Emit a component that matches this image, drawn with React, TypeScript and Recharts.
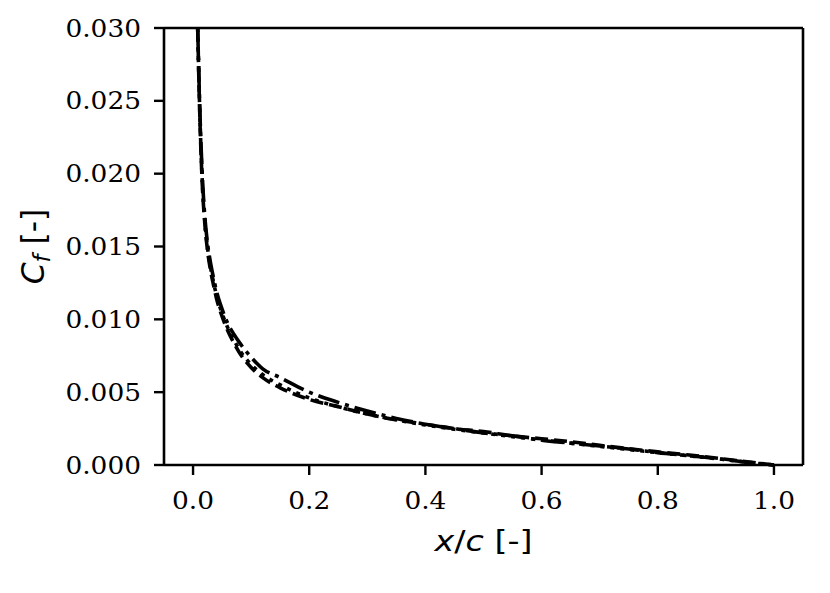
import { LineChart, Line, XAxis, YAxis, Label, ReferenceLine } from "recharts";

// chordwise positions x/c
const xc = [
  0.008, 0.012, 0.016, 0.02, 0.025, 0.03, 0.035, 0.04, 0.05, 0.06, 0.07, 0.08,
  0.1, 0.12, 0.15, 0.2, 0.25, 0.3, 0.35, 0.4, 0.45, 0.5, 0.55, 0.6, 0.65, 0.7,
  0.75, 0.8, 0.85, 0.9, 0.95, 1.0,
];

// skin friction, three cases
const cfDashed = [
  0.03, 0.0235, 0.0192, 0.0167, 0.0147, 0.0134, 0.0124, 0.0115, 0.0102, 0.0092,
  0.0084, 0.0077, 0.0067, 0.006, 0.0053, 0.0045, 0.004, 0.0035, 0.0031,
  0.0028, 0.0025, 0.0023, 0.002, 0.0018, 0.0016, 0.00135, 0.00112, 0.0009,
  0.0007, 0.00048, 0.00024, 0.0,
];
const cfDotted = [
  0.03, 0.0237, 0.0194, 0.0169, 0.0149, 0.0136, 0.0126, 0.0117, 0.0104,
  0.0094, 0.0086, 0.0079, 0.0069, 0.0062, 0.0055, 0.0046, 0.004, 0.0035,
  0.0031, 0.00275, 0.00245, 0.0022, 0.00195, 0.00172, 0.0015, 0.00128,
  0.00106, 0.00085, 0.00065, 0.00044, 0.00021, 0.0,
];
const cfDashDot = [
  0.03, 0.024, 0.0198, 0.0172, 0.0152, 0.0139, 0.0129, 0.012, 0.0107, 0.0097,
  0.009, 0.0084, 0.0074, 0.0066, 0.006, 0.005, 0.0043, 0.0037, 0.0032,
  0.0028, 0.0025, 0.0022, 0.002, 0.0017, 0.0015, 0.0013, 0.0011, 0.00085,
  0.00065, 0.00045, 0.0002, 0.0,
];

const xTicks = [0, 0.2, 0.4, 0.6, 0.8, 1.0];
const yTicks = [0, 0.005, 0.01, 0.015, 0.02, 0.025, 0.03];

const data = xc.map((x, i) => ({
  x,
  dashed: cfDashed[i],
  dotted: cfDotted[i],
  dashdot: cfDashDot[i],
}));

const serif = "DejaVu Serif";
const sans = "DejaVu Sans";
const stretch = 1.1;

function YTick(props: any) {
  const { x, y, payload } = props;
  return (
    <g transform={`translate(${x},${y})`}>
      <text
        transform={`scale(${stretch},1)`}
        textAnchor="end"
        dy="0.36em"
        fontFamily={serif}
        fontSize={24}
        fill="#000"
      >
        {payload.value.toFixed(3)}
      </text>
    </g>
  );
}

function XTick(props: any) {
  const { x, y, payload } = props;
  return (
    <g transform={`translate(${x},${y})`}>
      <text
        transform={`scale(${stretch},1)`}
        textAnchor="middle"
        dy="0.71em"
        fontFamily={serif}
        fontSize={24}
        fill="#000"
      >
        {payload.value.toFixed(1)}
      </text>
    </g>
  );
}

function YLabel(props: any) {
  const vb = props.viewBox;
  const cx = vb.x + 44;
  const cy = vb.y + vb.height / 2;
  return (
    <text
      transform={`translate(${cx},${cy}) rotate(-90) scale(1.08,1.12)`}
      textAnchor="middle"
      fontFamily={sans}
      fontSize={29}
      fill="#000"
    >
      <tspan fontStyle="italic">C</tspan>
      <tspan fontStyle="italic" fontSize={21} dy={5}>f</tspan>
      <tspan dy={-5}> [-]</tspan>
    </text>
  );
}

function XLabel(props: any) {
  const vb = props.viewBox;
  const cx = vb.x + vb.width / 2;
  return (
    <text
      transform={`translate(${cx},551) scale(1.15,1)`}
      textAnchor="middle"
      fontFamily={sans}
      fontSize={29}
      fill="#000"
    >
      <tspan fontStyle="italic">x</tspan>
      <tspan>/</tspan>
      <tspan fontStyle="italic">c</tspan>
      <tspan> [-]</tspan>
    </text>
  );
}

export default function App() {
  return (
    <div style={{ position: "absolute", left: 0, top: 0, background: "#fff" }}>
      <LineChart
        width={830}
        height={593}
        data={data}
        margin={{ top: 28, right: 27, bottom: 68, left: 0 }}
      >
        <XAxis
          type="number"
          dataKey="x"
          domain={[-0.05, 1.05]}
          ticks={xTicks}
          tick={<XTick />}
          tickSize={10}
          tickMargin={17}
          height={60}
          axisLine={{ stroke: "#000", strokeWidth: 2.6 }}
          tickLine={{ stroke: "#000", strokeWidth: 2.4 }}
        >
          <Label content={XLabel} />
        </XAxis>
        <YAxis
          type="number"
          domain={[0, 0.03]}
          ticks={yTicks}
          tick={<YTick />}
          tickSize={10}
          tickMargin={13}
          width={164}
          interval={0}
          axisLine={{ stroke: "#000", strokeWidth: 2.6 }}
          tickLine={{ stroke: "#000", strokeWidth: 2.4 }}
        >
          <Label content={YLabel} />
        </YAxis>
        <ReferenceLine y={0.03} stroke="#000" strokeWidth={2.6} />
        <ReferenceLine x={1.05} stroke="#000" strokeWidth={2.6} />
        <Line
          type="monotone"
          dataKey="dashed"
          stroke="#000"
          strokeWidth={3.6}
          strokeDasharray="13 6"
          dot={false}
          isAnimationActive={false}
        />
        <Line
          type="monotone"
          dataKey="dotted"
          stroke="#000"
          strokeWidth={3.6}
          strokeDasharray="4 6"
          dot={false}
          isAnimationActive={false}
        />
        <Line
          type="monotone"
          dataKey="dashdot"
          stroke="#000"
          strokeWidth={3.6}
          strokeDasharray="22 6 4 6"
          dot={false}
          isAnimationActive={false}
        />
      </LineChart>
    </div>
  );
}
